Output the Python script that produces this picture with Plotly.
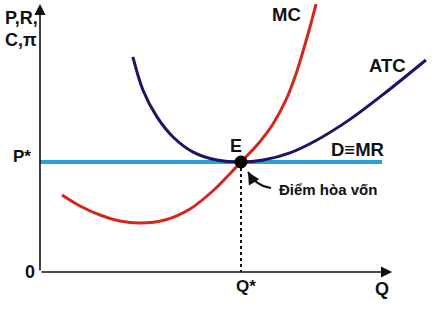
import plotly.graph_objects as go

# ---- data (economic units) ----
mc_q = [0.547, 0.995, 1.493, 1.99, 2.488, 3.109, 3.731, 4.353, 5.0, 5.423, 5.796, 6.119, 6.368, 6.567, 6.716, 6.866]
mc_c = [2.8, 2.4, 2.073, 1.855, 1.782, 1.891, 2.291, 3.018, 4.0, 4.655, 5.382, 6.255, 7.2, 8.145, 8.909, 9.745]

atc_q = [2.31, 2.56, 2.91, 3.31, 3.81, 4.4, 5.0, 5.55, 6.2, 6.89, 7.71, 8.53, 9.6]
atc_c = [7.82, 6.62, 5.64, 4.91, 4.36, 4.07, 4.0, 4.07, 4.32, 4.8, 5.55, 6.45, 7.71]

mr_q = [0.0, 8.51]
p_star = 4.0
q_star = 5.0
x_axis_end = 8.76
y_axis_end = 9.75

FONT = "Liberation Sans, Arial, sans-serif"
RED = "#d3261f"
NAVY = "#1c1464"
BLUE = "#2aa0da"
INK = "#111111"

fig = go.Figure()

# D = MR line
fig.add_trace(go.Scatter(x=mr_q, y=[p_star] * len(mr_q), mode="lines",
                         line=dict(color=BLUE, width=4), hoverinfo="skip"))
# Q* dotted drop line
fig.add_trace(go.Scatter(x=[q_star, q_star], y=[p_star, 0], mode="lines",
                         line=dict(color=INK, width=2, dash="dot"), hoverinfo="skip"))
# ATC
fig.add_trace(go.Scatter(x=atc_q, y=atc_c, mode="lines",
                         line=dict(color=NAVY, width=3, shape="spline", smoothing=0.9),
                         hoverinfo="skip"))
# MC
fig.add_trace(go.Scatter(x=mc_q, y=mc_c, mode="lines",
                         line=dict(color=RED, width=3, shape="spline", smoothing=0.9),
                         hoverinfo="skip"))
# E point
fig.add_trace(go.Scatter(x=[q_star], y=[p_star], mode="markers",
                         marker=dict(color="#000000", size=13), hoverinfo="skip"))

# axes lines with arrows
fig.add_annotation(x=0, y=y_axis_end, ax=0, ay=0, xref="x", yref="y", axref="x", ayref="y",
                   showarrow=True, arrowhead=2, arrowsize=1.4, arrowwidth=1.6,
                   arrowcolor=INK, standoff=0, text="")
fig.add_annotation(x=x_axis_end, y=0, ax=0, ay=0, xref="x", yref="y", axref="x", ayref="y",
                   showarrow=True, arrowhead=2, arrowsize=1.4, arrowwidth=1.6,
                   arrowcolor=INK, standoff=0, text="")

# curved pointer to E
p0 = (5.746, 3.055)
pc = (5.373, 3.127)
p1 = (5.174, 3.636)
fig.add_shape(type="path", xref="x", yref="y",
              path=f"M {p0[0]},{p0[1]} Q {pc[0]},{pc[1]} {p1[0]},{p1[1]}",
              line=dict(color=INK, width=2))
fig.add_annotation(x=p1[0], y=p1[1], ax=5.24, ay=3.47, xref="x", yref="y", axref="x", ayref="y",
                   showarrow=True, arrowhead=2, arrowsize=1.2, arrowwidth=2,
                   arrowcolor=INK, standoff=0, text="")

def label(text, x, y, size=18, xanchor="center", yanchor="middle"):
    fig.add_annotation(x=x, y=y, xref="x", yref="y", text=f"<b>{text}</b>",
                       showarrow=False, xanchor=xanchor, yanchor=yanchor,
                       font=dict(family=FONT, size=size, color=INK))

label("P,R,", -0.92, 9.236, size=18, xanchor="left")
label("C,π", -0.92, 8.436, size=18, xanchor="left")
label("MC", 6.144, 9.382, size=18.5)
label("ATC", 8.632, 7.527, size=18.5)
label("D≡MR", 7.886, 4.455, size=18.5)
label("E", 4.876, 4.582, size=18)
label("P*", -0.174, 4.218, size=17, xanchor="right")
label("0", -0.249, 0.018, size=18)
label("Q*", 5.124, -0.527, size=17)
label("Q", 8.507, -0.636, size=18)
label("Điểm hòa vốn", 5.896, 3.018, size=15, xanchor="left")

fig.update_layout(
    width=436, height=316,
    margin=dict(l=0, r=0, t=0, b=0),
    paper_bgcolor="white", plot_bgcolor="white",
    showlegend=False,
    xaxis=dict(range=[-40 / 40.2, 396 / 40.2], visible=False, fixedrange=True),
    yaxis=dict(range=[-44 / 27.5, 272 / 27.5], visible=False, fixedrange=True),
)

fig.write_html("out.html")
